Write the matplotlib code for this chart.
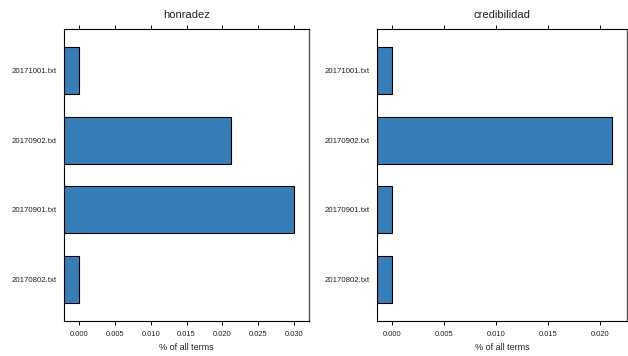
import matplotlib.pyplot as plt

plt.rcParams['font.family'] = ['Liberation Sans', 'DejaVu Sans']

# documents, bottom to top
docs = ["20170802.txt", "20170901.txt", "20170902.txt", "20171001.txt"]

# keyword share per document (% of all terms)
honradez = [0.0, 0.030, 0.0212, 0.0]
credibilidad = [0.0, 0.0, 0.02115, 0.0]

panels = [
    ("honradez", honradez, [0.000, 0.005, 0.010, 0.015, 0.020, 0.025, 0.030],
     [64 / 628, 309 / 628]),
    ("credibilidad", credibilidad, [0.000, 0.005, 0.010, 0.015, 0.020],
     [377 / 628, 627 / 628]),
]

bar_color = "#377eb8"

fig = plt.figure(figsize=(6.28, 3.56), dpi=100)

for title, vals, ticks, (x0, x1) in panels:
    ax = fig.add_axes([x0, 35 / 356, x1 - x0, 292 / 356])
    vmax = max(vals)
    pad = 0.07 * vmax
    lo, hi = -pad, vmax + pad
    ypos = list(range(1, len(docs) + 1))
    # lattice-style bars grow from the left edge of the panel
    ax.barh(ypos, [v - lo for v in vals], left=lo, height=0.67,
            color=bar_color, edgecolor="black", linewidth=0.8)
    ax.set_xlim(lo, hi)
    ax.set_ylim(0.4, 4.6)
    ax.set_yticks(ypos)
    ax.set_yticklabels(docs, fontsize=5.6, color="#222222")
    ax.tick_params(axis="y", length=0, pad=5)
    ax.set_xticks(ticks)
    ax.set_xticklabels([f"{t:.3f}" for t in ticks], fontsize=5.4, color="#222222")
    ax.tick_params(axis="x", direction="out", length=3, width=0.7,
                   top=True, labeltop=False, pad=4)
    ax.set_title(title, fontsize=8, color="#222222", pad=8)
    ax.set_xlabel("% of all terms", fontsize=6.5, color="#222222", labelpad=4)
    for side in ["left", "top", "bottom"]:
        ax.spines[side].set_linewidth(0.8)
    ax.spines["right"].set_linewidth(1.0)
    ax.spines["right"].set_color("#555555")

fig.savefig("out.png", dpi=100)
